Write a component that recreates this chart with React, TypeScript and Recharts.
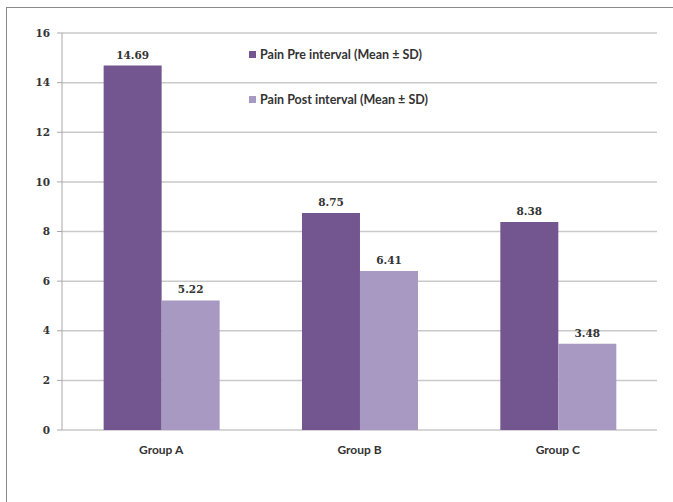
import { BarChart, Bar, XAxis, YAxis, CartesianGrid, LabelList } from 'recharts'

const groups = ['Group A', 'Group B', 'Group C']
const painPre = [14.69, 8.75, 8.38]
const painPost = [5.22, 6.41, 3.48]
const yTicks = [0, 2, 4, 6, 8, 10, 12, 14, 16]
const seriesNames = ['Pain Pre interval (Mean ± SD)', 'Pain Post interval (Mean ± SD)']

const PRE = '#735690'
const POST = '#a899c2'
const numFont = '"DejaVu Serif", serif'
const textFont = 'Lato, "Open Sans", sans-serif'

const data = groups.map((g, i) => ({ group: g, pre: painPre[i], post: painPost[i] }))

function LegendBox() {
  const colors = [PRE, POST]
  return (
    <div style={{ position: 'absolute', left: 249, top: 46 }}>
      {seriesNames.map((name, i) => (
        <div
          key={name}
          style={{
            display: 'flex',
            alignItems: 'center',
            height: 16,
            marginBottom: i === 0 ? 29 : 0,
            fontFamily: textFont,
            fontWeight: 700,
            fontSize: 12.5,
            color: '#333',
            whiteSpace: 'nowrap',
          }}
        >
          <span style={{ width: 7, height: 7, background: colors[i], marginRight: 4 }} />
          {name}
        </div>
      ))}
    </div>
  )
}

export default function App() {
  return (
    <div style={{ position: 'absolute', left: 0, top: 0, width: 673, height: 502, background: '#fff', overflow: 'hidden' }}>
      {/* outer frame, only top/left edges fall inside the view */}
      <div
        style={{
          position: 'absolute',
          left: 6,
          top: 7,
          width: 700,
          height: 520,
          borderLeft: '1px solid #8a8a8a',
          borderTop: '1px solid #8a8a8a',
        }}
      />
      <BarChart
        width={673}
        height={502}
        data={data}
        margin={{ top: 33, right: 16, bottom: 42, left: 0 }}
        barCategoryGap="21%"
        barGap={0}
        style={{ position: 'absolute', left: 0, top: 0 }}
      >
        <CartesianGrid vertical={false} stroke="#c9c9c9" strokeWidth={1.5} />
        {/* category boundary ticks */}
        <XAxis
          xAxisId="edge"
          type="number"
          domain={[0, 3]}
          ticks={[0, 1, 2, 3]}
          height={0}
          tick={false}
          tickSize={4}
          tickLine={{ stroke: '#b5b5b5' }}
          axisLine={{ stroke: '#c4c4c4', strokeWidth: 1.5 }}
        />
        <XAxis
          dataKey="group"
          height={30}
          axisLine={false}
          tickLine={false}
          tickMargin={9}
          tick={{ fontFamily: textFont, fontWeight: 700, fontSize: 12, fill: '#333' }}
        />
        <YAxis
          width={62}
          domain={[0, 16]}
          ticks={yTicks}
          interval={0}
          tickSize={5}
          tickMargin={7}
          axisLine={{ stroke: '#a8a8a8' }}
          tickLine={{ stroke: '#a8a8a8' }}
          tick={{ fontFamily: numFont, fontWeight: 700, fontSize: 10.5, fill: '#333' }}
        />
        <Bar dataKey="pre" name={seriesNames[0]} fill={PRE} isAnimationActive={false}>
          <LabelList
            dataKey="pre"
            position="top"
            offset={7}
            style={{ fontFamily: numFont, fontWeight: 700, fontSize: 10.5, fill: '#333' }}
          />
        </Bar>
        <Bar dataKey="post" name={seriesNames[1]} fill={POST} isAnimationActive={false}>
          <LabelList
            dataKey="post"
            position="top"
            offset={7}
            style={{ fontFamily: numFont, fontWeight: 700, fontSize: 10.5, fill: '#333' }}
          />
        </Bar>
      </BarChart>
      <LegendBox />
    </div>
  )
}
